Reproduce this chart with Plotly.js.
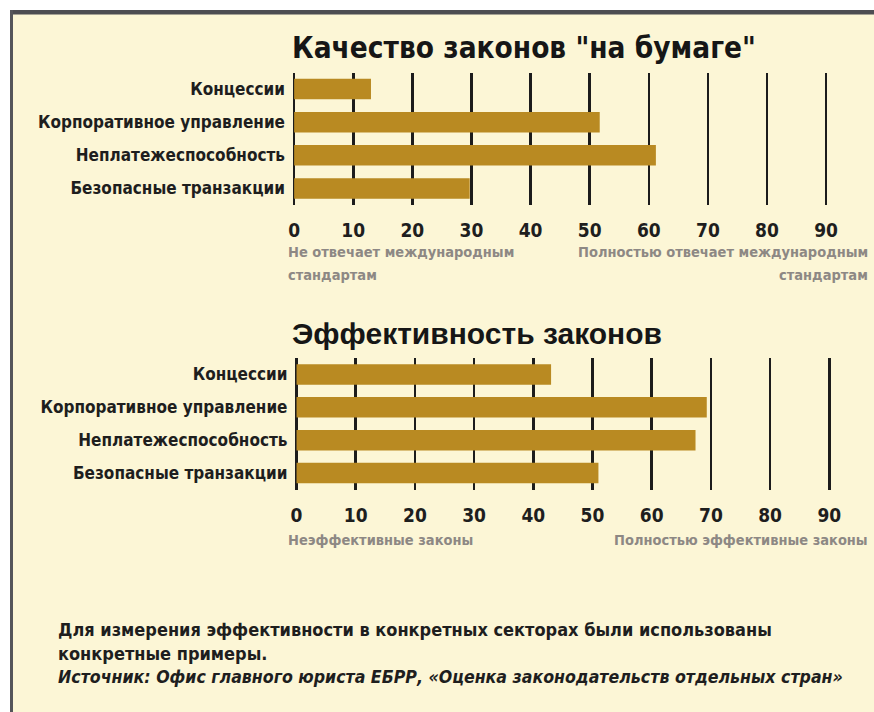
<!DOCTYPE html>
<html>
<head>
<meta charset="utf-8">
<script src="https://cdn.plot.ly/plotly-3.0.1.min.js"></script>
<style>
html,body{margin:0;padding:0;background:#fff;}
#chart{width:874px;height:712px;}
</style>
</head>
<body>
<div id="chart"></div>
<script>
// ---- data ----
const categories = ['Концессии', 'Корпоративное управление', 'Неплатежеспособность', 'Безопасные транзакции'];
const paperQuality = [13, 51.7, 61.2, 29.7];
const effectiveness = [43, 69.3, 67.4, 51];
const tickVals = [0, 10, 20, 30, 40, 50, 60, 70, 80, 90];
const titleTop = 'Качество законов "на бумаге"';
const titleBottom = 'Эффективность законов';
const topLow = ['Не отвечает международным', 'стандартам'];
const topHigh = ['Полностью отвечает международным', 'стандартам'];
const bottomLow = 'Неэффективные законы';
const bottomHigh = 'Полностью эффективные законы';
const footer = ['Для измерения эффективности в конкретных секторах были использованы', 'конкретные примеры.'];
const source = 'Источник: Офис главного юриста ЕБРР, «Оценка законодательств отдельных стран»';

// ---- layout helpers ----
const W = 874, H = 712;
const px = x => x / W;
const py = y => 1 - y / H;
const NARROW = '"Liberation Sans Narrow", "DejaVu Sans Condensed", "Arial Narrow", sans-serif';
const SANS = '"Liberation Sans", Arial, sans-serif';
const BAR = '#b98a22';
const BG = '#fcf6d6';

const barTrace = (vals, xa, ya) => ({
  type: 'bar', orientation: 'h', x: vals, y: categories,
  xaxis: xa, yaxis: ya, width: 0.62,
  marker: {color: BAR, line: {width: 0}}, hoverinfo: 'x+y'
});

const xCommon = {
  tickvals: tickVals, showgrid: true, gridcolor: '#1c1c1c', gridwidth: 2.5,
  zeroline: false, showline: false, ticks: '', ticklabelstandoff: 12,
  tickfont: {family: NARROW, size: 19, color: '#1e1e1e', weight: 'bold'}
};
const yCommon = {
  type: 'category', categoryarray: categories, range: [3.5, -0.5],
  showgrid: false, zeroline: false, showline: false, ticks: '', ticklabelstandoff: 4,
  tickfont: {family: NARROW, size: 17, color: '#1e1e1e', weight: 'bold'}
};

const ann = (text, x, y, opts) => Object.assign({
  text: text, xref: 'paper', yref: 'paper', x: px(x), y: py(y),
  xanchor: 'left', yanchor: 'middle', showarrow: false,
  font: {family: NARROW, size: 14.5, color: '#8d8884', weight: 'bold'}
}, opts || {});

const footFont = {family: NARROW, size: 18, color: '#1e1e1e', weight: 'bold'};

const annotations = [
  ann(titleTop, 290, 48, {font: {family: NARROW, size: 29.5, color: '#161616', weight: 'bold'}}),
  ann(titleBottom, 290, 333, {font: {family: SANS, size: 30, color: '#161616', weight: 'bold'}}),
  ann(topLow[0], 286, 252), ann(topLow[1], 286, 275),
  ann(topHigh[0], 870, 252, {xanchor: 'right'}), ann(topHigh[1], 870, 275, {xanchor: 'right'}),
  ann(bottomLow, 286, 540),
  ann(bottomHigh, 870, 540, {xanchor: 'right'}),
  ann(footer[0], 56, 629, {font: footFont}),
  ann(footer[1], 56, 653, {font: footFont}),
  ann(source, 56, 677, {font: Object.assign({}, footFont, {style: 'italic', size: 17.6})})
];

const shapes = [
  {type: 'rect', xref: 'paper', yref: 'paper', x0: px(11), x1: 1.01, y0: -0.01, y1: py(12), fillcolor: BG, line: {width: 0}, layer: 'below'},
  {type: 'rect', xref: 'paper', yref: 'paper', x0: px(10), x1: 1.01, y0: py(14.5), y1: py(10), fillcolor: '#4d4d52', line: {width: 0}, layer: 'below'},
  {type: 'rect', xref: 'paper', yref: 'paper', x0: px(10), x1: px(13), y0: -0.01, y1: py(10), fillcolor: '#55555a', line: {width: 0}, layer: 'below'}
];

const layout = {
  width: W, height: H, margin: {l: 0, r: 0, t: 0, b: 0},
  paper_bgcolor: '#ffffff', plot_bgcolor: 'rgba(0,0,0,0)',
  showlegend: false, bargap: 0.38,
  xaxis: Object.assign({}, xCommon, {domain: [px(290), 1], range: [-0.7, 98.1], anchor: 'y'}),
  yaxis: Object.assign({}, yCommon, {domain: [py(205), py(72.5)], anchor: 'x'}),
  xaxis2: Object.assign({}, xCommon, {domain: [px(292.5), 1], range: [-0.68, 97.55], anchor: 'y2'}),
  yaxis2: Object.assign({}, yCommon, {domain: [py(489.5), py(358)], anchor: 'x2'}),
  annotations: annotations, shapes: shapes
};

Plotly.newPlot('chart', [barTrace(paperQuality, 'x', 'y'), barTrace(effectiveness, 'x2', 'y2')], layout, {staticPlot: true, displayModeBar: false});
</script>
</body>
</html>
